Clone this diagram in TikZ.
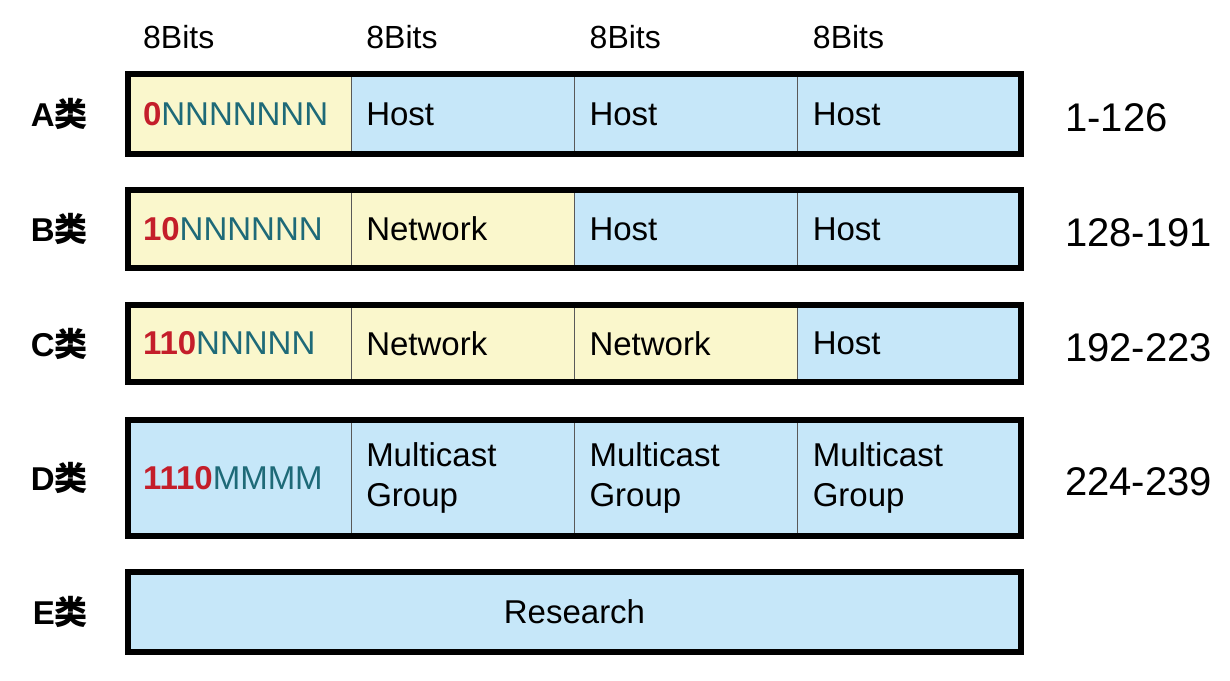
\documentclass[tikz,border=0pt]{standalone}
\usepackage{fontspec}
\setmainfont{Liberation Sans}
\newfontfamily\cjk{Noto Sans CJK SC}
\usetikzlibrary{positioning}
\definecolor{netyellow}{HTML}{FAF7CC}
\definecolor{hostblue}{HTML}{C6E7F9}
\definecolor{bitred}{HTML}{C41E2A}
\definecolor{bitteal}{HTML}{1E6A78}
\newcommand{\leadbits}[2]{{\bfseries\color{bitred}#1}{\color{bitteal}#2}}

\begin{document}
\begin{tikzpicture}[x=1bp,y=-1bp,
    cell/.style={draw=black!65,line width=1.2bp,inner xsep=15bp,inner ysep=0pt,outer sep=0pt,
        text width=193.25bp,align=left,anchor=north west,font=\fontsize{33bp}{40bp}\selectfont},
    net/.style={cell,fill=netyellow},
    host/.style={cell,fill=hostblue},
    frame/.style={line width=6bp},
    cls/.style={inner sep=0pt,font=\fontsize{33bp}{40bp}\selectfont\bfseries},
    octetrange/.style={inner sep=0pt,yshift=-4bp,font=\fontsize{40bp}{48bp}\selectfont},
    bits/.style={inner sep=0pt,anchor=base west,font=\fontsize{32bp}{38bp}\selectfont}]
    \useasboundingbox (0,0) rectangle (1230,681);

    % class A
    \node[net,minimum height=79bp] (a1) at (128,74.5) {\leadbits{0}{NNNNNNN}};
    \node[host,minimum height=79bp,right=0pt of a1] (a2) {Host};
    \node[host,minimum height=79bp,right=0pt of a2] (a3) {Host};
    \node[host,minimum height=79bp,right=0pt of a3] (a4) {Host};
    \draw[frame] (a1.north west) rectangle (a4.south east);

    % class B
    \node[net,minimum height=78bp] (b1) at (128,190) {\leadbits{10}{NNNNNN}};
    \node[net,minimum height=78bp,right=0pt of b1] (b2) {Network};
    \node[host,minimum height=78bp,right=0pt of b2] (b3) {Host};
    \node[host,minimum height=78bp,right=0pt of b3] (b4) {Host};
    \draw[frame] (b1.north west) rectangle (b4.south east);

    % class C
    \node[net,minimum height=77bp] (c1) at (128,305) {\leadbits{110}{NNNNN}};
    \node[net,minimum height=77bp,right=0pt of c1] (c2) {Network};
    \node[net,minimum height=77bp,right=0pt of c2] (c3) {Network};
    \node[host,minimum height=77bp,right=0pt of c3] (c4) {Host};
    \draw[frame] (c1.north west) rectangle (c4.south east);

    % class D
    \node[host,minimum height=116bp] (d1) at (128,420) {\leadbits{1110}{MMMM}};
    \node[host,minimum height=116bp,right=0pt of d1] (d2) {Multicast\\Group};
    \node[host,minimum height=116bp,right=0pt of d2] (d3) {Multicast\\Group};
    \node[host,minimum height=116bp,right=0pt of d3] (d4) {Multicast\\Group};
    \draw[frame] (d1.north west) rectangle (d4.south east);

    % class E
    \node[host,minimum height=80bp,text width=863bp,align=center] (e1) at (128,572) {Research};
    \draw[frame] (e1.north west) rectangle (e1.south east);

    % bit widths
    \foreach \c in {a1,a2,a3,a4}
        \node[bits] (bits-\c) at ([xshift=15bp,yshift=26bp]\c.north west) {8Bits};

    % class names
    \node[cls,left=40bp of a1] (name-a) {A\cjk 类};
    \node[cls,left=40bp of b1] (name-b) {B\cjk 类};
    \node[cls,left=40bp of c1] (name-c) {C\cjk 类};
    \node[cls,left=40bp of d1] (name-d) {D\cjk 类};
    \node[cls,left=40bp of e1] (name-e) {E\cjk 类};

    % first octet ranges
    \node[octetrange,right=44bp of a4] (range-a) {1-126};
    \node[octetrange,right=44bp of b4] (range-b) {128-191};
    \node[octetrange,right=44bp of c4] (range-c) {192-223};
    \node[octetrange,right=44bp of d4] (range-d) {224-239};
\end{tikzpicture}
\end{document}
